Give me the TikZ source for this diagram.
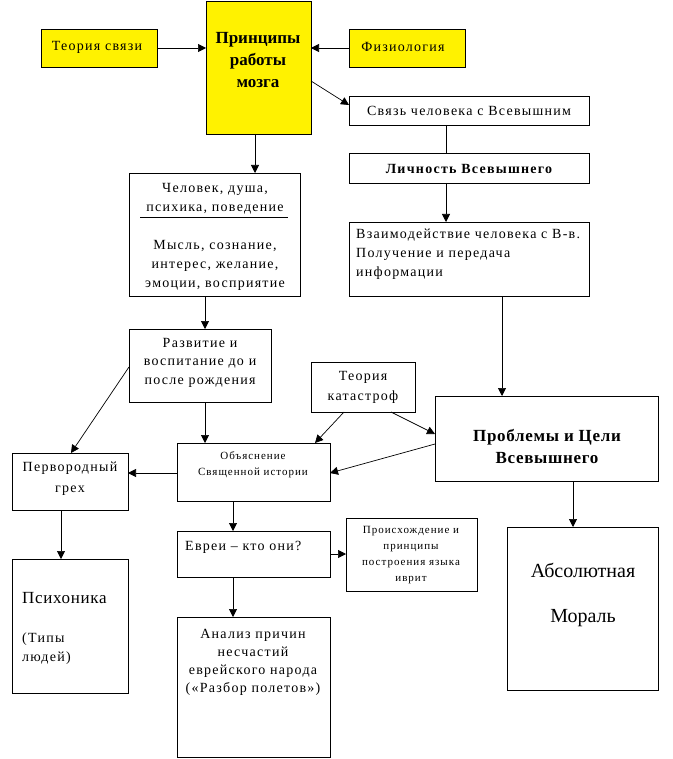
\documentclass[tikz,border=0pt]{standalone}
\usepackage{fontspec}
\setmainfont{Liberation Serif}
\newfontfamily\spf{Liberation Serif}[LetterSpace=9]
\newfontfamily\spl{Liberation Serif}[LetterSpace=4]
\usetikzlibrary{arrows.meta,calc}
\begin{document}
\begin{tikzpicture}[x=1pt,y=-1pt,
  box/.style={draw, line width=0.9pt, inner sep=0pt, outer sep=0pt, anchor=north west},
  ybox/.style={box, fill=yellow},
  arr/.style={-{Triangle[length=8pt,width=8pt]}, line width=0.7pt},
  ln/.style={line width=0.7pt},
  tx/.style={inner sep=0pt, align=center, font=\spf\fontsize{14}{19}\selectfont},
  sm/.style={tx, font=\spf\fontsize{11}{16}\selectfont},
  bf/.style={tx, font=\bfseries\fontsize{17}{22}\selectfont}]
\useasboundingbox (0,0) rectangle (672,759);

% boxes
\node[ybox, minimum width=116pt, minimum height=38pt] (ts) at (41,29) {};
\node[ybox, minimum width=105pt, minimum height=133pt] (pr) at (206,1) {};
\node[ybox, minimum width=116pt, minimum height=38pt] (fz) at (349,29) {};
\node[box, minimum width=240pt, minimum height=29pt] (sv) at (349,96) {};
\node[box, minimum width=240pt, minimum height=30pt] (li) at (349,153) {};
\node[box, minimum width=240pt, minimum height=74pt] (vz) at (349,222) {};
\node[box, minimum width=171pt, minimum height=123pt] (ch) at (129,173) {};
\node[box, minimum width=142pt, minimum height=73pt] (ra) at (129,329) {};
\node[box, minimum width=104pt, minimum height=50pt] (tk) at (311,362) {};
\node[box, minimum width=223pt, minimum height=85pt] (pc) at (435,396) {};
\node[box, minimum width=153pt, minimum height=58pt] (ob) at (177,443) {};
\node[box, minimum width=116pt, minimum height=57pt] (pg) at (12,453) {};
\node[box, minimum width=153pt, minimum height=46pt] (ev) at (177,531) {};
\node[box, minimum width=131pt, minimum height=73pt] (ps) at (346,518) {};
\node[box, minimum width=116pt, minimum height=134pt] (pk) at (12,559) {};
\node[box, minimum width=153pt, minimum height=140pt] (an) at (177,617) {};
\node[box, minimum width=151pt, minimum height=163pt] (am) at (507,527) {};

% texts
\node[tx] (tts) at (97,47) {Теория связи};
\node[bf] (tpr) at (258,60) {Принципы\\работы\\мозга};
\node[tx] (tfz) at (403,47) {Физиология};
\node[tx] (tsv) at (469,111) {Связь человека с Всевышним};
\node[tx, font=\spf\bfseries\fontsize{14}{19}\selectfont] (tli) at (469,169) {Личность Всевышнего};
\node[tx, align=left, anchor=north west] (tvz) at (356,229) {Взаимодействие человека с В-в.\\Получение и передача\\информации};
\node[tx] (tch1) at (215,198.5) {Человек, душа,\\психика, поведение};
\draw[ln] (140,217) coordinate (r1) -- (288,217) coordinate (r2);
\node[tx] (tch2) at (215,265) {Мысль, сознание,\\интерес, желание,\\эмоции, восприятие};
\node[tx, font=\spf\fontsize{14}{18.5}\selectfont] (tra) at (200,362.5) {Развитие и\\воспитание до и\\после рождения};
\node[tx, font=\spf\fontsize{14}{20}\selectfont] (ttk) at (363,387) {Теория\\катастроф};
\node[bf, font=\spl\bfseries\fontsize{17}{22}\selectfont] (tpc) at (547,446) {Проблемы и Цели\\Всевышнего};
\node[sm] (tob) at (253,465) {Объяснение\\Священной истории};
\node[tx, font=\spf\fontsize{14}{21}\selectfont] (tpg) at (70,479) {Первородный\\грех};
\node[tx, anchor=west] (tev) at (185,547) {Евреи – кто они?};
\node[sm] (tps) at (411,555.5) {Происхождение и\\принципы\\построения языка\\иврит};
\node[tx, anchor=west, font=\spl\fontsize{17}{20}\selectfont] (tpk1) at (22,598) {Психоника};
\node[tx, anchor=west, align=left] (tpk2) at (22,649) {(Типы\\людей)};
\node[tx, font=\spf\fontsize{14}{18}\selectfont] (tan) at (253,662) {Анализ причин\\несчастий\\еврейского народа\\(«Разбор полетов»)};
\node[tx, font=\fontsize{20}{45}\selectfont] (tam) at (583,594.5) {Абсолютная\\Мораль};

% connectors
\draw[arr] (ts.east) -- (ts.east -| pr.west);
\draw[arr] (fz.west) -- (fz.west -| pr.east);
\draw[arr] ($(pr.north east)+(0,80)$) -- ($(sv.north west)+(0,9)$);
\draw[arr] ($(pr.south west)+(49,0)$) -- ($(ch.north west)+(126,0)$);
\draw[ln] ($(sv.south west)+(97,0)$) -- ($(li.north west)+(97,0)$);
\draw[arr] ($(li.south west)+(97,0)$) -- ($(vz.north west)+(97,0)$);
\draw[arr] ($(vz.south west)+(153,0)$) -- ($(pc.north west)+(67,0)$);
\draw[arr] ($(ch.south west)+(76,0)$) -- ($(ra.north west)+(76,0)$);
\draw[arr] ($(ra.north west)+(0,38)$) -- ($(pg.north west)+(59,0)$);
\draw[arr] ($(ra.south west)+(76,0)$) -- ($(ob.north west)+(28,0)$);
\draw[arr] ($(tk.south west)+(33,0)$) -- ($(ob.north east)+(-15,0)$);
\draw[arr] ($(tk.south west)+(80,0)$) -- ($(pc.north west)+(0,38)$);
\draw[arr] ($(pc.north west)+(0,48)$) -- ($(ob.north east)+(0,30)$);
\draw[arr] ($(ob.north west)+(0,30)$) -- ($(pg.north east)+(0,20)$);
\draw[arr] ($(pg.south west)+(49,0)$) -- ($(pk.north west)+(49,0)$);
\draw[arr] ($(ob.south west)+(56,0)$) -- ($(ev.north west)+(56,0)$);
\draw[arr] ($(ev.north east)+(0,23)$) -- ($(ps.north west)+(0,36)$);
\draw[arr] ($(ev.south west)+(56,0)$) -- ($(an.north west)+(56,0)$);
\draw[arr] ($(pc.south west)+(138,0)$) -- ($(am.north west)+(66,0)$);
\end{tikzpicture}
\end{document}
